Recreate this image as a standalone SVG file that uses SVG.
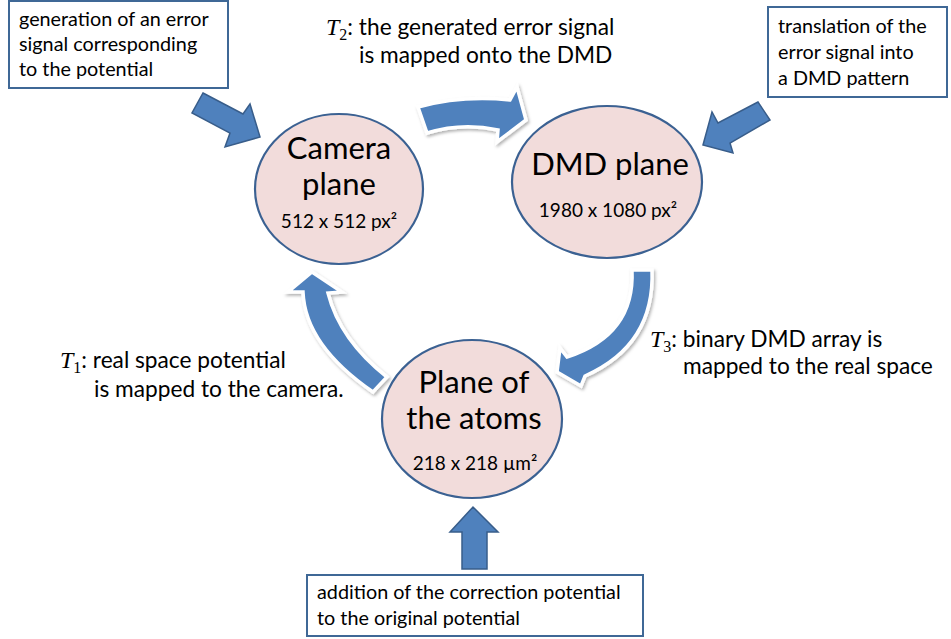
<svg xmlns="http://www.w3.org/2000/svg" width="951" height="639" viewBox="0 0 951 639">
  <style>
    .plane { fill: #F2DCDB; stroke: #3B6192; stroke-width: 2.2; }
    .note { fill: #FFFFFF; stroke: #3F6896; stroke-width: 2; }
    .block { fill: #4F81BD; stroke: #385D8A; stroke-width: 1.5; stroke-linejoin: miter; }
    .bend { fill: #4F81BD; stroke: #FFFFFF; stroke-width: 3.5; stroke-linejoin: miter; filter: url(#soft); }
    text { font-family: Lato, "Liberation Sans", sans-serif; fill: #000000; }
    .title { font-size: 31px; text-anchor: middle; }
    .size { font-size: 19px; text-anchor: middle; }
    .note-text { font-size: 19.8px; }
    .label { font-size: 22.7px; }
    .math { font-family: "Liberation Serif", "DejaVu Serif", serif; font-style: italic; font-size: 24px; }
    .sub { font-family: "Liberation Serif", "DejaVu Serif", serif; font-size: 16px; }
  </style>
  <defs>
    <filter id="soft" x="-20%" y="-20%" width="140%" height="140%">
      <feDropShadow dx="1.5" dy="2" stdDeviation="1.6" flood-color="#000000" flood-opacity="0.3"/>
    </filter>
  </defs>

  <rect width="951" height="639" fill="#FFFFFF"/>

  <!-- connectors: curved transfer arrows and straight input arrows -->
  <g id="connectors">
    <!-- T1: atoms to camera -->
    <path class="bend" d="M387,377 Q340,340 328,293 L342,292 L312,272 L288,292 L303,292 Q305,345 373,392 Z"/>
    <!-- T2: camera to DMD -->
    <path class="bend" d="M418,107 Q462,95 510,100 L517,87 L526,120 L497,142 L498,130 Q462,122 427,133 Z"/>
    <!-- T3: DMD to atoms -->
    <path class="bend" d="M632,270 L652,270 Q655,345 585,376 L581,386 L557,372 L560,348 L567,357 Q635,335 632,270 Z"/>
    <!-- notes feeding the planes -->
    <polygon class="block" points="203,93 243,114 250,104 260,137 225,147 230,133 192,113"/>
    <polygon class="block" points="758,102 718,123 712,112 703,145 733,153 730,143 770,120"/>
    <polygon class="block" points="462,569 462,532 450,532 473,507 498,532 487,532 487,569"/>

    <text class="label" x="326" y="35"><tspan class="math">T</tspan><tspan class="sub" dy="5">2</tspan><tspan dy="-5">: the generated error signal</tspan></text>
    <text class="label" x="359" y="63">is mapped onto the DMD</text>

    <text class="label" x="60" y="368"><tspan class="math">T</tspan><tspan class="sub" dy="5">1</tspan><tspan dy="-5">: real space potential</tspan></text>
    <text class="label" x="94" y="397">is mapped to the camera.</text>

    <text class="label" x="650" y="347"><tspan class="math">T</tspan><tspan class="sub" dy="5">3</tspan><tspan dy="-5">: binary DMD array is</tspan></text>
    <text class="label" x="683" y="374">mapped to the real space</text>
  </g>

  <g id="node-camera">
    <ellipse class="plane" cx="339" cy="189" rx="84" ry="75"/>
    <text class="title" x="339" y="159">Camera</text>
    <text class="title" x="339" y="195">plane</text>
    <text class="size" x="339" y="228">512 x 512 px²</text>
  </g>

  <g id="node-dmd">
    <ellipse class="plane" cx="607" cy="182" rx="95" ry="76"/>
    <text class="title" x="610" y="175">DMD plane</text>
    <text class="size" x="608" y="217">1980 x 1080 px²</text>
  </g>

  <g id="node-atoms">
    <ellipse class="plane" cx="472" cy="419" rx="90" ry="79"/>
    <text class="title" x="474" y="393">Plane of</text>
    <text class="title" x="474" y="429">the atoms</text>
    <text class="size" x="475" y="470">218 x 218 µm²</text>
  </g>

  <g id="note-error">
    <rect class="note" x="9" y="1" width="219" height="87"/>
    <text class="note-text" x="19" y="26">generation of an error</text>
    <text class="note-text" x="19" y="51">signal corresponding</text>
    <text class="note-text" x="19" y="76">to the potential</text>
  </g>

  <g id="note-translation">
    <rect class="note" x="768" y="7" width="179" height="90"/>
    <text class="note-text" x="778" y="33">translation of the</text>
    <text class="note-text" x="778" y="59">error signal into</text>
    <text class="note-text" x="778" y="85">a DMD pattern</text>
  </g>

  <g id="note-correction">
    <rect class="note" x="307" y="575" width="336" height="61"/>
    <text class="note-text" x="317" y="599">addition of the correction potential</text>
    <text class="note-text" x="317" y="625">to the original potential</text>
  </g>
</svg>
